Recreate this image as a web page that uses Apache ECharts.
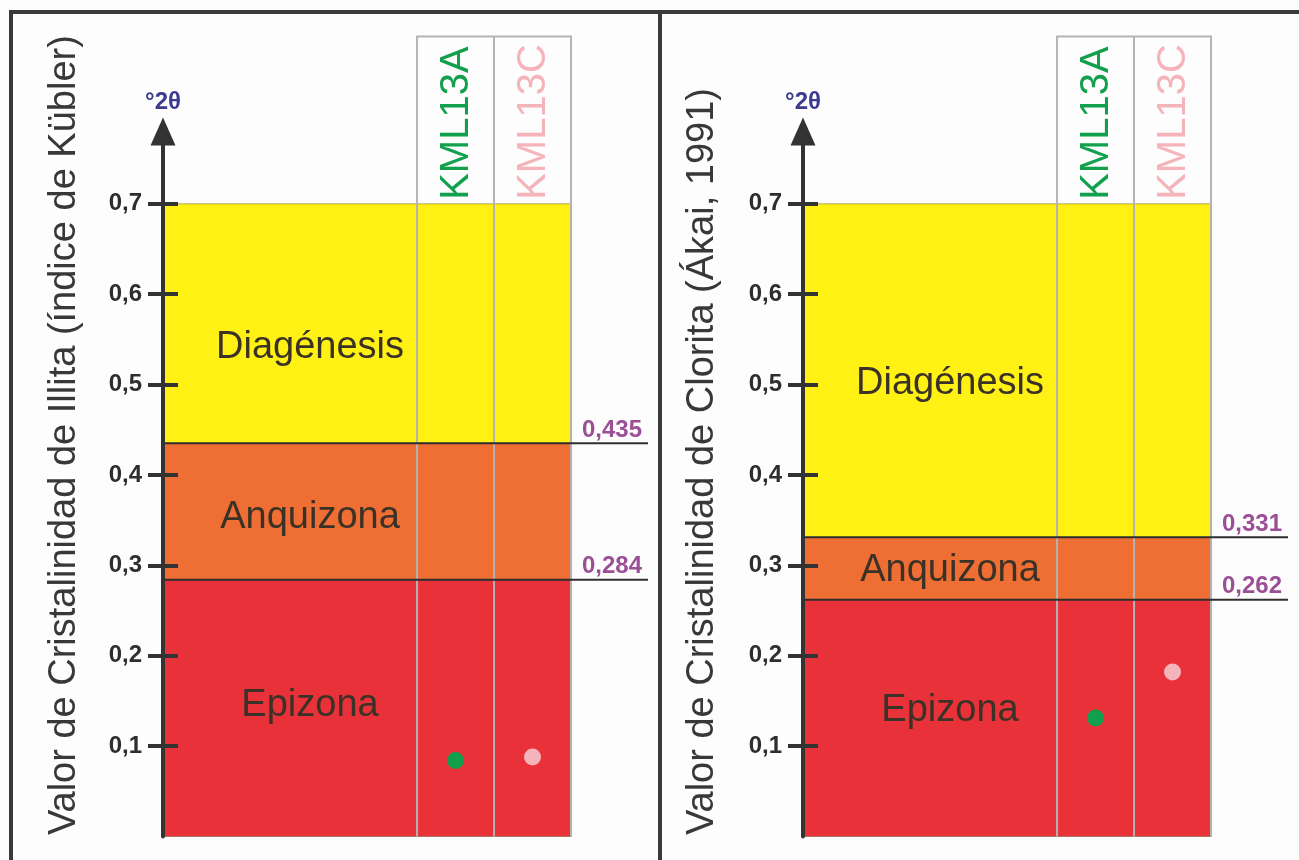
<!DOCTYPE html>
<html><head><meta charset="utf-8">
<script src="https://cdn.jsdelivr.net/npm/echarts@6/dist/echarts.min.js"></script>
<style>html,body{margin:0;padding:0;background:#fff}#c{width:1299px;height:860px}</style>
</head><body><div id="c"></div><script>
// ---------- data ----------
const yTicks = [0.1, 0.2, 0.3, 0.4, 0.5, 0.6, 0.7];
const zoneNames = ['Epizona', 'Anquizona', 'Diagénesis'];
const illitaLimits = [0, 0.284, 0.435, 0.7];
const cloritaLimits = [0, 0.262, 0.331, 0.7];
const sampleNames = ['KML13A', 'KML13C'];
const illitaValues = [0.084, 0.088];
const cloritaValues = [0.131, 0.182];
const titles = ['Valor de Cristalinidad de Illita (índice de Kübler)', 'Valor de Cristalinidad de Clorita (Ákai, 1991)'];
const unitLabel = '°2θ';

// ---------- layout / style ----------
const FONT = '"Liberation Sans", Arial, Helvetica, sans-serif';
const ZONE_W = 3.3, COL_W = 1, LINE_END = 6.3, Y_MAX = 0.78, HEADER_TOP = 0.885;
const zoneColors = ['#e9313a', '#ef6e33', '#fff114'];
const sampleColors = ['#12a04d', '#f5b4ba'];
const gridLefts = [163, 803];
const zoneLabelShift = [[-3, -8], [6, 2], [24, 13]]; // pixel nudges per zone: [left panel, right panel]
const fmt1 = v => v.toFixed(1).replace('.', ',');
const fmt3 = v => v.toFixed(3).replace('.', ',');

function makeRender(limits, g) {
  return function (params, api) {
    const ch = [];
    const xEnd = ZONE_W + COL_W * sampleNames.length;
    for (let i = 0; i < zoneNames.length; i++) {
      const p0 = api.coord([0, limits[i + 1]]), p1 = api.coord([xEnd, limits[i]]);
      ch.push({type: 'rect', shape: {x: p0[0], y: p0[1], width: p1[0] - p0[0], height: p1[1] - p0[1]},
        style: {fill: zoneColors[i], stroke: 'rgba(90,70,40,0.45)', lineWidth: 1}});
    }
    // zone labels
    for (let i = 0; i < zoneNames.length; i++) {
      const c = api.coord([ZONE_W / 2, (limits[i] + limits[i + 1]) / 2]);
      ch.push({type: 'text', x: c[0] + 20, y: c[1] + zoneLabelShift[i][g], style: {text: zoneNames[i], fontSize: 38, fontFamily: FONT,
        fill: '#3a3226', align: 'center', verticalAlign: 'middle'}});
    }
    // column lines + header box
    for (let k = 0; k <= sampleNames.length; k++) {
      const a = api.coord([ZONE_W + k * COL_W, HEADER_TOP]), b = api.coord([ZONE_W + k * COL_W, 0]);
      ch.push({type: 'line', shape: {x1: a[0], y1: a[1], x2: b[0], y2: b[1]}, style: {stroke: '#b3b3b3', lineWidth: 2}});
    }
    const h0 = api.coord([ZONE_W, HEADER_TOP]), h1 = api.coord([xEnd, HEADER_TOP]);
    ch.push({type: 'line', shape: {x1: h0[0] - 1, y1: h0[1], x2: h1[0] + 1, y2: h1[1]}, style: {stroke: '#b3b3b3', lineWidth: 2}});
    // header texts
    sampleNames.forEach((n, k) => {
      const c = api.coord([ZONE_W + (k + 0.5) * COL_W, 0.7]);
      ch.push({type: 'text', x: c[0] + 1, y: c[1] - 4, rotation: Math.PI / 2,
        style: {text: n, fontSize: 40, fontFamily: FONT, fill: sampleColors[k], align: 'left', verticalAlign: 'middle'}});
    });
    // thresholds
    for (let i = 1; i < limits.length - 1; i++) {
      const a = api.coord([0, limits[i]]), b = api.coord([LINE_END, limits[i]]);
      ch.push({type: 'line', shape: {x1: a[0], y1: a[1], x2: b[0], y2: b[1]}, style: {stroke: '#2f2f2f', lineWidth: 2}});
      ch.push({type: 'text', x: b[0] - 6, y: b[1] - 1, style: {text: fmt3(limits[i]), fontSize: 24, fontWeight: 'bold',
        fontFamily: FONT, fill: '#9b4f96', align: 'right', verticalAlign: 'bottom'}});
    }
    return {type: 'group', children: ch};
  };
}

const grids = [], xAxes = [], yAxes = [], series = [];
[illitaLimits, cloritaLimits].forEach((limits, g) => {
  const values = g === 0 ? illitaValues : cloritaValues;
  grids.push({left: gridLefts[g], top: 131.5, width: 485, height: 705, containLabel: false});
  xAxes.push({gridIndex: g, type: 'value', min: 0, max: LINE_END, show: false});
  yAxes.push({gridIndex: g, type: 'value', min: 0, max: Y_MAX, interval: 0.1, position: 'left', z: 10,
    splitLine: {show: false},
    axisLine: {show: true, onZero: false, symbol: ['none', 'triangle'], symbolSize: [25, 28],
      lineStyle: {color: '#333', width: 4}},
    axisTick: {show: true, customValues: yTicks, length: 15, lineStyle: {color: '#333', width: 4}},
    axisLabel: {customValues: yTicks, margin: 21, formatter: fmt1, fontSize: 24, fontWeight: 'bold',
      color: '#2e2e2e', fontFamily: FONT},
    name: unitLabel, nameLocation: 'end', nameGap: 17,
    nameTextStyle: {color: '#3d3b8e', fontSize: 24, fontWeight: 'bold', fontFamily: FONT, align: 'center', verticalAlign: 'bottom'}
  });
  yAxes.push({gridIndex: g, type: 'value', min: 0, max: Y_MAX, interval: 0.1, position: 'left', z: 10,
    splitLine: {show: false}, axisLine: {show: false},
    axisTick: {show: true, inside: true, customValues: yTicks, length: 15, lineStyle: {color: '#333', width: 4}},
    axisLabel: {show: false}});
  series.push({type: 'custom', xAxisIndex: g, yAxisIndex: g * 2, clip: false, z: 2, silent: true,
    data: [[0, 0]], renderItem: makeRender(limits, g)});
  series.push({type: 'scatter', xAxisIndex: g, yAxisIndex: g * 2, z: 5, symbolSize: 17, silent: true,
    itemStyle: {opacity: 1},
    data: sampleNames.map((n, k) => ({name: n, value: [ZONE_W + (k + 0.5) * COL_W, values[k]], itemStyle: {color: sampleColors[k], opacity: 1}}))});
});

const titleX = [65, 703];
const chart = echarts.init(document.getElementById('c'), null, {renderer: 'canvas'});
chart.setOption({
  backgroundColor: '#fdfdfd',
  animation: false,
  grid: grids, xAxis: xAxes, yAxis: yAxes, series: series,
  graphic: [
    {type: 'line', shape: {x1: 9, y1: 12, x2: 1299, y2: 12}, style: {stroke: '#3a3a3a', lineWidth: 4}},
    {type: 'line', shape: {x1: 11, y1: 10, x2: 11, y2: 860}, style: {stroke: '#3a3a3a', lineWidth: 4}},
    {type: 'line', shape: {x1: 660, y1: 10, x2: 660, y2: 860}, style: {stroke: '#3a3a3a', lineWidth: 4}},
    ...titles.map((t, i) => ({type: 'text', x: titleX[i], y: 835, rotation: Math.PI / 2,
      style: {text: t, fontSize: 38, fontFamily: FONT, fill: '#383838', align: 'left', verticalAlign: 'middle'}}))
  ]
});
</script></body></html>
